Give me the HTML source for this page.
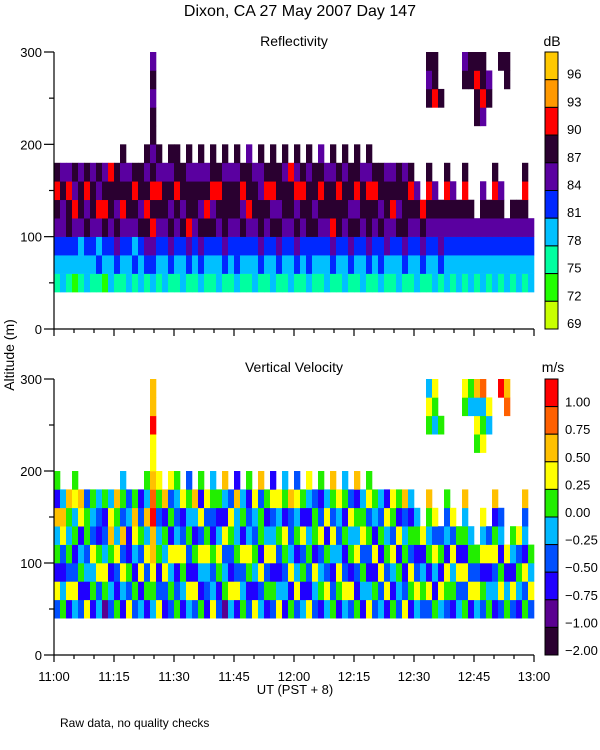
<!DOCTYPE html>
<html><head><meta charset="utf-8"><style>
html,body{margin:0;padding:0;background:#fff;}
svg{display:block;font-family:"Liberation Sans",sans-serif;}
</style></head><body>
<svg id="chart" width="600" height="750" viewBox="0 0 600 750">
<text x="300" y="16" font-size="16" text-anchor="middle">Dixon, CA 27 May 2007  Day 147</text>
<text x="294" y="46" font-size="14" text-anchor="middle">Reflectivity</text>
<text x="294" y="372" font-size="14" text-anchor="middle">Vertical Velocity</text>
<text transform="translate(14,355) rotate(-90)" font-size="14" text-anchor="middle">Altitude (m)</text>
<text x="295" y="694" font-size="13" text-anchor="middle">UT  (PST + 8)</text>
<text x="60" y="727" font-size="12">Raw data, no quality checks</text>
<text x="552" y="46" font-size="14" text-anchor="middle">dB</text>
<text x="553" y="372" font-size="14" text-anchor="middle">m/s</text>
<g id="g"></g>
</svg>
<script>
const refColors=["#c8ff00","#22ff00","#00ffa0","#00c0ff","#0028ff","#5a00a0","#2a0030","#ff0000","#ff9900","#ffc800"];
const velColors=["#2a0030","#5a0090","#2000ff","#0050ff","#00b8ff","#22ee00","#ffff00","#ffc000","#ff6000","#ff0000"];
const dbLabels=["96","93","90","87","84","81","78","75","72","69"];
const velLabels=["1.00","0.75","0.50","0.25","0.00","\u22120.25","\u22120.50","\u22120.75","\u22121.00","\u22122.00"];
const timeLabels=["11:00","11:15","11:30","11:45","12:00","12:15","12:30","12:45","13:00"];
const altTicks=[0,100,200,300];
const binBase=40, binSize=20;
const refData=["2345676","3345565","2346675","1345756","2335665","3346576","2345665","2435756","1346765","3345667",
"2456566","23457656","3345665","2435676","3346566","24567656","3457676566565","23456756","3345665","24565656",
"23456766","3346566","24576656","2345665","34565656","2346765","23465766","3345676","24566656","2345665",
"34456656","2346576","23457665","3345665","24566556","2345676","33465766","2456566","23456656","3345667",
"24565756","2345676","34466656","2346566","23456765","3345665","24576656","2346676","33456656","2456566",
"23465766","3345665","24566756","2345676","3446566","2355665","2345765","3346566","2456665","2345676",
"334565","24567","2345676...656","334565....766","24556.....6","3345676","234565","33456","2345676....65","33456......66",
"2345.....6676","334565...5766","23456.....65","3345676","234565......6","3345.......66","23456","33456","2345676","3345"];
const velData=["36254725","5423674","2635457","46325465","3254267","6243553","2546345","4365234","1564325","3425764",
"5236457","24637354","6352243","3524675","4263532","25364745","4567798766977","63254356","2364527","35462536",
"53264345","2456326","46235453","3625247","52463625","2346536","64352354","3256425","15436247","4623563",
"26354472","5436254","32564325","6245346","43625537","2536425","35264362","6423546","24356254","5264337",
"36425463","4253625","62354246","3462553","25436325","4635264","53246357","2564346","46325254","3625463",
"52364527","2453654","64235365","3526245","4362534","2635462","5246356","3452625","6325437","2563524",
"463254","35426","3625457...564","524636....456","46253.....5","3562435","254636","43625","5362547....56","26354......45",
"4635.....5647","352646...6548","54263.....46","2436527","365243......9","5426.......87","36245","24536","5362437","3645"];

const NS="http://www.w3.org/2000/svg";
const g=document.getElementById('g');
const X0=54,X1=534,tMin=0,tMax=120;
function xs(t){return X0+(t-tMin)/(tMax-tMin)*(X1-X0);}
function mk(tag,attrs,parent){const e=document.createElementNS(NS,tag);for(const k in attrs)e.setAttribute(k,attrs[k]);(parent||g).appendChild(e);return e;}
const panels=[{top:52,bot:329,data:refData,colors:refColors,name:'reflectivity'},{top:379,bot:655,data:velData,colors:velColors,name:'velocity'}];
panels.forEach((p,pi)=>{
  const ys=a=>p.bot-(a/300)*(p.bot-p.top);
  const grp=mk('g',{});
  
  
  const n=p.data.length, dt=(tMax-tMin)/n;
  p.data.forEach((col,i)=>{
    for(let r=0;r<col.length;r++){
      const c=col[r]; if(c==='.')continue;
      const a0=binBase+r*binSize, a1=a0+binSize;
      const x=xs(tMin+i*dt), w=xs(tMin+(i+1)*dt)-x;
      const rc=mk('rect',{x:x,y:ys(a1),width:w+0.3,height:ys(a0)-ys(a1)+0.3,fill:p.colors[+c]},grp);
      
      
    }
  });
  const ax=mk('g',{stroke:'#000','stroke-width':1.2});
  
  
  mk('line',{x1:X0,y1:p.top,x2:X0,y2:p.bot},ax);
  mk('line',{x1:X0,y1:p.bot,x2:X1,y2:p.bot},ax);
  for(let a=0;a<=300;a+=50){const maj=a%100===0;mk('line',{x1:X0-(maj?10:5),y1:ys(a),x2:X0,y2:ys(a)},ax);}
  for(let t=0;t<=120;t+=5){const maj=t%15===0;mk('line',{x1:xs(t),y1:p.bot,x2:xs(t),y2:p.bot+(maj?7:4)},ax);}
  altTicks.forEach(a=>{const tx=mk('text',{x:X0-12,y:ys(a)+5,'font-size':13,'text-anchor':'end'});tx.textContent=a;
    });
  if(pi===1){timeLabels.forEach((l,k)=>{const tx=mk('text',{x:xs(k*15),y:681,'font-size':13,'text-anchor':'middle'});tx.textContent=l;
    });}
  const labels=pi===0?dbLabels:velLabels;
  const cb=mk('g',{});
  
  
  const segH=(p.bot-p.top)/10;
  for(let k=0;k<10;k++){
    const ci=9-k;
    mk('rect',{x:545,y:p.top+k*segH,width:13,height:segH,fill:p.colors[ci],stroke:'#000','stroke-width':1},cb);
    const tx=mk('text',{x:pi===0?567:565,y:p.top+(k+1)*segH-(pi===0?1:0),'font-size':13},cb);
    tx.textContent=labels[k];
    
    
  }
});
</script>
</body></html>
